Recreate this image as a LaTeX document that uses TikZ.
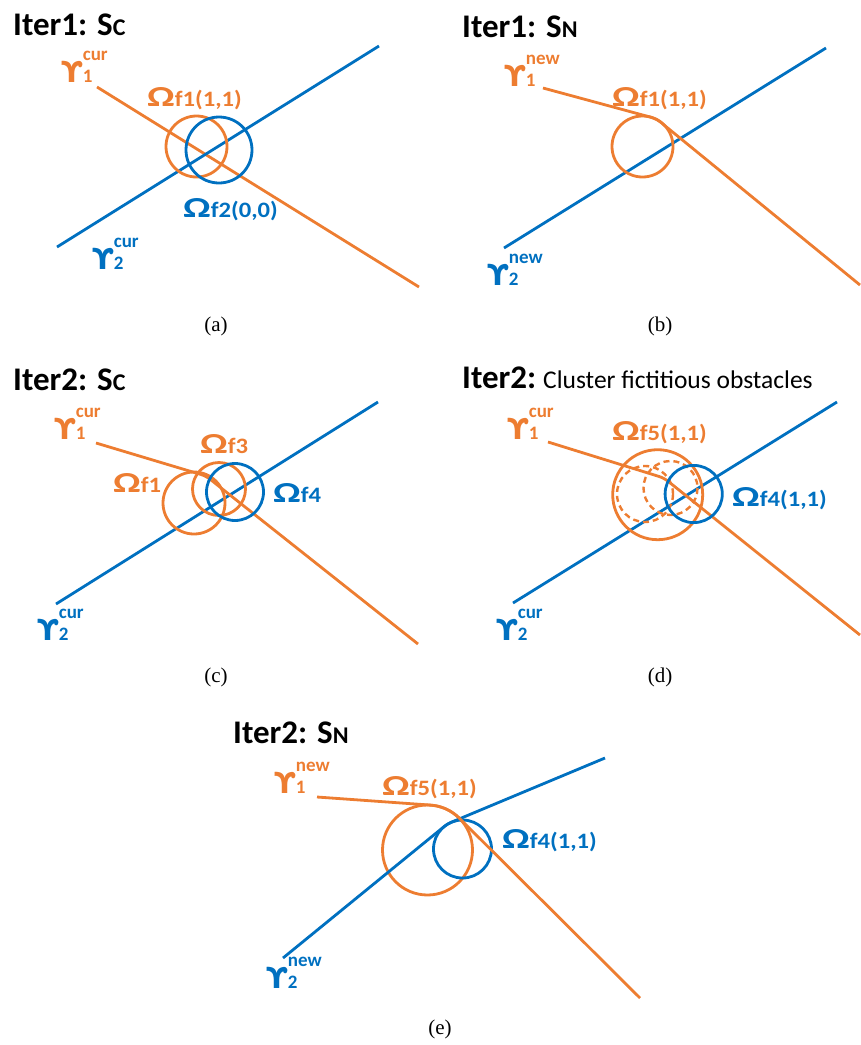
\documentclass[tikz,border=0pt]{standalone}
\usepackage{fontspec}
\setmainfont{Carlito}
\newfontfamily\capfont{Liberation Serif}
\newfontfamily\upsfont{DejaVu Sans}
\usepackage{graphicx}
\definecolor{orng}{HTML}{ED7D31}
\definecolor{blu}{HTML}{0070C0}
\newcommand{\Om}[1]{{\fontsize{29}{29}\selectfont\scalebox{1.4}[1]{Ω}}{\fontsize{22}{22}\selectfont\scalebox{1.12}[1]{#1}}}
\newcommand{\Ups}[2]{{\upsfont\bfseries\fontsize{29}{29}\selectfont ϒ}\makebox[0pt][l]{\raisebox{22pt}{\fontsize{19}{19}\selectfont #2}}{\fontsize{19}{19}\selectfont #1}}
\newcommand{\ttl}[2]{{\fontsize{33}{33}\selectfont #1S{\fontsize{24}{24}\selectfont #2}}}
\begin{document}
\begin{tikzpicture}[x=1pt,y=-1pt,
  ob/.style={draw=orng, line width=2.8pt},
  bl/.style={draw=blu, line width=2.8pt},
  obd/.style={draw=orng, line width=2.4pt, dash pattern=on 6pt off 4pt},
  lab/.style={inner sep=0pt, anchor=base west, font=\bfseries},
  olab/.style={lab, text=orng},
  blab/.style={lab, text=blu},
  capn/.style={inner sep=0pt, anchor=base, font=\capfont\fontsize{21}{21}\selectfont}]
\useasboundingbox (0,0) rectangle (861,1045);

% ---------- (a)
\draw[ob] (97,87) -- (419,287);
\draw[bl] (57,247) -- (379,46);
\draw[ob] (196.5,146.5) circle[radius=30.5];
\draw[bl] (219,150) circle[radius=33];
\node[lab] (ta) at (13,35) {\ttl{Iter1: }{C}};
\node[olab] (y1a) at (61,82) {\Ups{1}{cur}};
\node[olab] (o1a) at (147,106) {\Om{f1(1,1)}};
\node[blab] (o2a) at (183,217) {\Om{f2(0,0)}};
\node[blab] (y2a) at (92,269) {\Ups{2}{cur}};
\node[capn] (ca) at (216,331) {(a)};

% ---------- (b)
\draw[bl] (504,248) -- (826,48);
\draw[ob] (642.5,146.5) circle[radius=30.5];
\draw[ob] (543,88) -- (650.4,117.1) arc[start angle=285.1, end angle=315, radius=30.5] -- (860,285);
\node[lab] (tb) at (462,37) {\ttl{Iter1: }{N}};
\node[olab] (y1b) at (504,86) {\Ups{1}{new}};
\node[olab] (o1b) at (612,106) {\Om{f1(1,1)}};
\node[blab] (y2b) at (487,285) {\Ups{2}{new}};
\node[capn] (cb) at (660,331) {(b)};

% ---------- (c)
\draw[bl] (56,604) -- (378,402);
\draw[ob, rounded corners=5pt] (96,443) -- (206,476) -- (418,644);
\draw[ob] (194,503) circle[radius=31];
\draw[ob] (219,489) circle[radius=26.5];
\draw[bl] (235,492) circle[radius=28.5];
\node[lab] (tc) at (13,390) {\ttl{Iter2: }{C}};
\node[olab] (y1c) at (54,439) {\Ups{1}{cur}};
\node[olab] (o3c) at (200,453) {\Om{f3}};
\node[olab] (o1c) at (113,492) {\Om{f1}};
\node[blab] (o4c) at (273,502) {\Om{f4}};
\node[blab] (y2c) at (37,640) {\Ups{2}{cur}};
\node[capn] (cc) at (216,682) {(c)};

% ---------- (d)
\draw[bl] (513,603) -- (837,402);
\draw[ob, rounded corners=5pt] (548,442) -- (664,478) -- (860,635);
\draw[ob] (657.7,494.7) circle[radius=45];
\draw[obd] (645,494) circle[radius=28];
\draw[obd] (670.5,488) circle[radius=27];
\draw[bl] (693.7,494) circle[radius=28.6];
\node[lab] (td) at (462,388) {{\fontsize{33}{33}\selectfont Iter2:}\hspace{7pt}{\mdseries\fontsize{25.5}{25.5}\selectfont Cluster fictitious obstacles}};
\node[olab] (y1d) at (507,439) {\Ups{1}{cur}};
\node[olab] (o5d) at (612,440) {\Om{f5(1,1)}};
\node[blab] (o4d) at (732,506) {\Om{f4(1,1)}};
\node[blab] (y2d) at (496,640) {\Ups{2}{cur}};
\node[capn] (cd) at (660,682) {(d)};

% ---------- (e)
\draw[ob] (427.5,850) circle[radius=45];
\draw[bl] (462.5,849) circle[radius=29];
\draw[bl] (283,958) -- (444.2,826.5) arc[start angle=230.8, end angle=247.3, radius=29] -- (605,758);
\draw[ob] (317,797) -- (430.7,805.1) arc[start angle=274.1, end angle=314.9, radius=45] -- (640,998);
\node[lab] (te) at (233,743) {\ttl{Iter2: }{N}};
\node[olab] (y1e) at (274,793) {\Ups{1}{new}};
\node[olab] (o5e) at (382,795) {\Om{f5(1,1)}};
\node[blab] (o4e) at (502,848) {\Om{f4(1,1)}};
\node[blab] (y2e) at (266,988) {\Ups{2}{new}};
\node[capn] (ce) at (440,1034) {(e)};
\end{tikzpicture}
\end{document}
